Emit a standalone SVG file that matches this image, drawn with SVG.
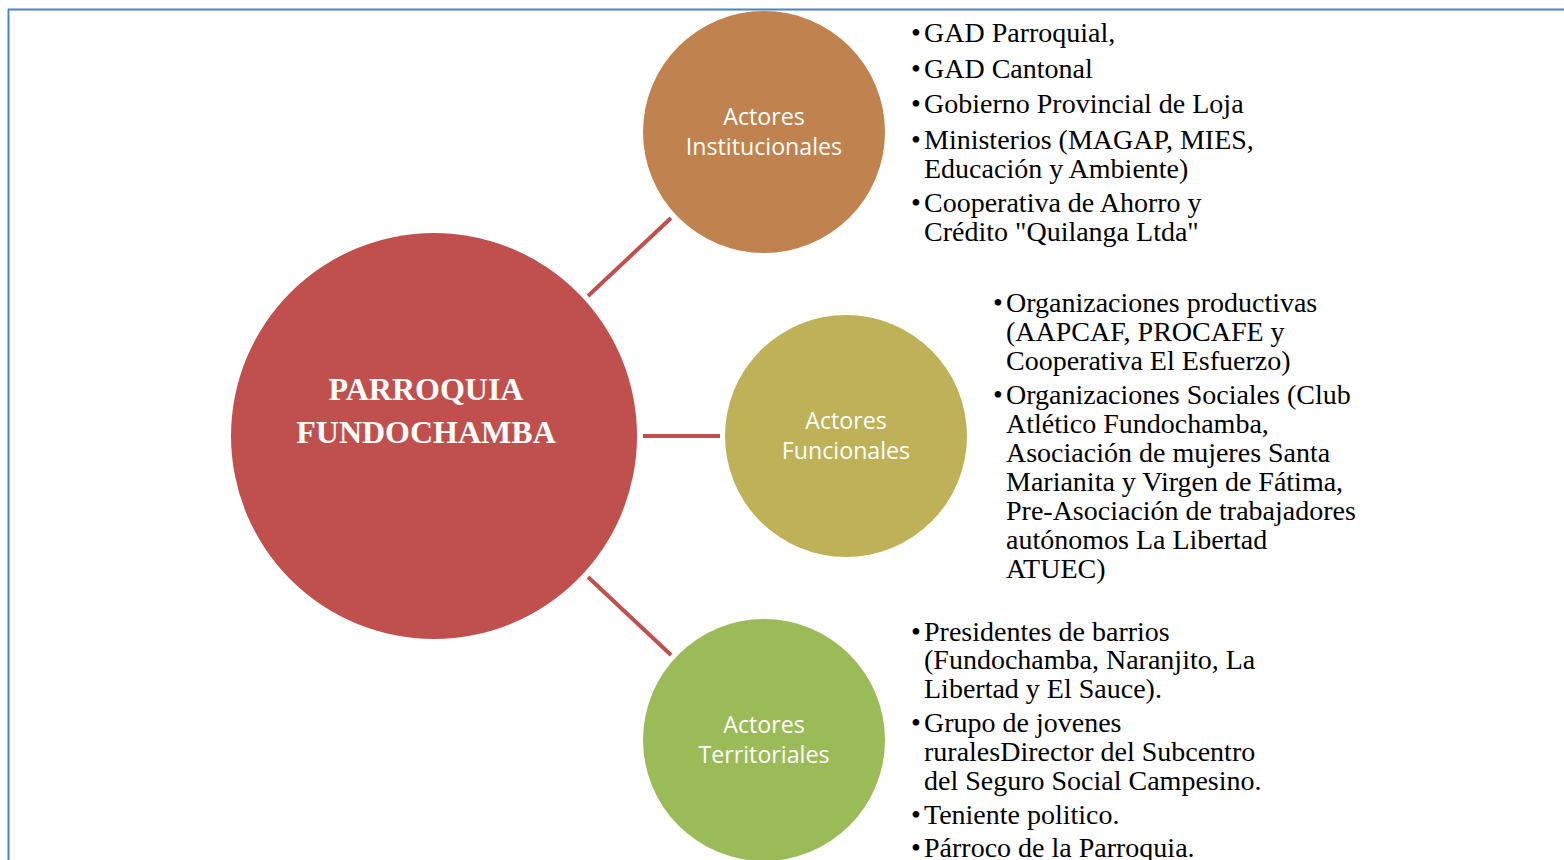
<svg xmlns="http://www.w3.org/2000/svg" width="1564" height="860" viewBox="0 0 1564 860">
<style>
.bul{font-family:"Liberation Serif","Times New Roman",serif;font-size:28px;fill:#000}
.lbl{font-family:"Open Sans","Noto Sans",sans-serif;font-size:23.2px;fill:#fff;text-anchor:middle}
.main{font-family:"Liberation Serif","Times New Roman",serif;font-size:32px;font-weight:bold;fill:#fff;text-anchor:middle}
.conn{stroke:#c0504d;stroke-width:4;fill:none}
</style>
<rect width="1564" height="860" fill="#fff"/>
<g id="frame" stroke="#4f81bd" stroke-width="2" fill="none">
<line x1="8" y1="9.5" x2="1564" y2="9.5"/>
<line x1="8.5" y1="9" x2="8.5" y2="860"/>
</g>
<g id="connectors">
<line class="conn" x1="588" y1="296" x2="671" y2="218"/>
<line class="conn" x1="643" y1="436" x2="720" y2="436"/>
<line class="conn" x1="588" y1="577" x2="671" y2="655"/>
</g>
<g id="center">
<circle cx="434" cy="436" r="203" fill="#c0504d"/>
<text class="main" x="426" y="400">PARROQUIA</text>
<text class="main" x="426" y="443">FUNDOCHAMBA</text>
</g>
<g id="institucionales">
<circle cx="764" cy="132" r="121" fill="#c0834f"/>
<text class="lbl" x="764" y="125">Actores</text>
<text class="lbl" x="764" y="155">Institucionales</text>
</g>
<g id="funcionales">
<circle cx="846" cy="436" r="121" fill="#bfb158"/>
<text class="lbl" x="846" y="429">Actores</text>
<text class="lbl" x="846" y="459">Funcionales</text>
</g>
<g id="territoriales">
<circle cx="764" cy="740" r="121" fill="#9bbb59"/>
<text class="lbl" x="764" y="733">Actores</text>
<text class="lbl" x="764" y="763">Territoriales</text>
</g>
<g id="list-institucionales" class="bul">
<text x="911" y="42">•</text><text x="924" y="42">GAD Parroquial,</text>
<text x="911" y="78">•</text><text x="924" y="78">GAD Cantonal</text>
<text x="911" y="113">•</text><text x="924" y="113">Gobierno Provincial de Loja</text>
<text x="911" y="149">•</text><text x="924" y="149">Ministerios (MAGAP, MIES,</text>
<text x="924" y="178">Educación y Ambiente)</text>
<text x="911" y="212">•</text><text x="924" y="212">Cooperativa de Ahorro y</text>
<text x="924" y="241">Crédito "Quilanga Ltda"</text>
</g>
<g id="list-funcionales" class="bul">
<text x="993" y="312">•</text><text x="1006" y="312">Organizaciones productivas</text>
<text x="1006" y="341">(AAPCAF, PROCAFE y</text>
<text x="1006" y="370">Cooperativa El Esfuerzo)</text>
<text x="993" y="404">•</text><text x="1006" y="404">Organizaciones Sociales (Club</text>
<text x="1006" y="433">Atlético Fundochamba,</text>
<text x="1006" y="462">Asociación de mujeres Santa</text>
<text x="1006" y="491">Marianita y Virgen de Fátima,</text>
<text x="1006" y="520">Pre-Asociación de trabajadores</text>
<text x="1006" y="549">autónomos La Libertad</text>
<text x="1006" y="578">ATUEC)</text>
</g>
<g id="list-territoriales" class="bul">
<text x="911" y="641">•</text><text x="924" y="641">Presidentes de barrios</text>
<text x="924" y="669">(Fundochamba, Naranjito, La</text>
<text x="924" y="698">Libertad y El Sauce).</text>
<text x="911" y="732">•</text><text x="924" y="732">Grupo de jovenes</text>
<text x="924" y="761">ruralesDirector del Subcentro</text>
<text x="924" y="790">del Seguro Social Campesino.</text>
<text x="911" y="824">•</text><text x="924" y="824">Teniente politico.</text>
<text x="911" y="857">•</text><text x="924" y="857">Párroco de la Parroquia.</text>
</g>
</svg>
